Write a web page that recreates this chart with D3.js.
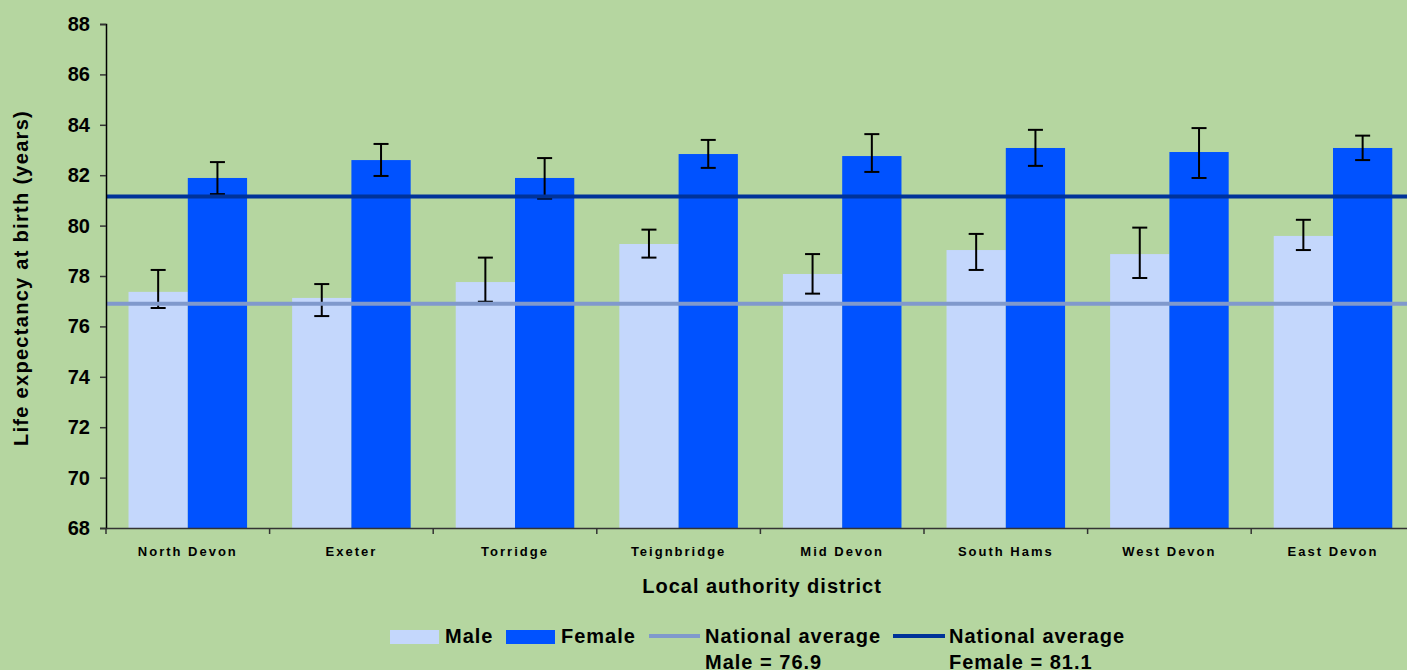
<!DOCTYPE html>
<html><head><meta charset="utf-8">
<script src="https://cdn.jsdelivr.net/npm/d3@7"></script>
<style>
html,body{margin:0;padding:0;background:#B5D6A0;overflow:hidden;}
text{font-family:"Liberation Sans",Arial,sans-serif;font-weight:bold;fill:#000;}
</style></head><body>
<svg id="chart" width="1407" height="670"></svg>
<script>
const categories = ["North Devon","Exeter","Torridge","Teignbridge","Mid Devon","South Hams","West Devon","East Devon"];
const maleValues   = [77.37, 77.13, 77.76, 79.27, 78.08, 79.03, 78.87, 79.59];
const maleLow      = [76.73, 76.41, 76.98, 78.73, 77.30, 78.24, 77.92, 79.03];
const maleHigh     = [78.24, 77.68, 78.73, 79.84, 78.87, 79.67, 79.92, 80.23];
const femaleValues = [81.89, 82.60, 81.89, 82.84, 82.76, 83.08, 82.92, 83.08];
const femaleLow    = [81.25, 81.97, 81.07, 82.29, 82.13, 82.37, 81.89, 82.60];
const femaleHigh   = [82.52, 83.24, 82.68, 83.40, 83.63, 83.80, 83.87, 83.57];
const nationalMale = 76.9;
const nationalFemale = 81.15;
const yTicks = [68,70,72,74,76,78,80,82,84,86,88];
const seriesNames = ["Male","Female"];

const colors = {Male:"#C4D7FC", Female:"#0052FF", natMale:"#8099CC", natFemale:"#003399"};

const svg = d3.select("#chart");
const pLeft = 106, pTop = 24, pBottom = 528, pRight = 106 + 8*163.6;

const y = d3.scaleLinear().domain([68,88]).range([pBottom, pTop]);
const x0 = d3.scaleBand().domain(categories).range([pLeft, pRight]).paddingInner(0).paddingOuter(0);
const x1 = d3.scaleBand().domain(seriesNames).range([0, x0.bandwidth()]).paddingInner(0).paddingOuter(0.38);

const rows = categories.map((c,i)=>({cat:c, series:[
  {name:"Male", v:maleValues[i], lo:maleLow[i], hi:maleHigh[i]},
  {name:"Female", v:femaleValues[i], lo:femaleLow[i], hi:femaleHigh[i]}
]}));

// bars
const g = svg.append("g");
const groups = g.selectAll("g.cat").data(rows).join("g")
  .attr("transform", d=>`translate(${x0(d.cat)},0)`);
groups.selectAll("rect").data(d=>d.series).join("rect")
  .attr("x", d=>x1(d.name)).attr("width", x1.bandwidth())
  .attr("y", d=>y(d.v)).attr("height", d=>y(68)-y(d.v))
  .attr("fill", d=>colors[d.name]);

// error bars
const cap = 7.5;
const eb = groups.selectAll("g.eb").data(d=>d.series).join("g").attr("class","eb");
eb.append("line").attr("x1",d=>x1(d.name)+x1.bandwidth()/2).attr("x2",d=>x1(d.name)+x1.bandwidth()/2)
  .attr("y1",d=>y(d.lo)).attr("y2",d=>y(d.hi)).attr("stroke","#000").attr("stroke-width",2);
eb.append("line").attr("x1",d=>x1(d.name)+x1.bandwidth()/2-cap).attr("x2",d=>x1(d.name)+x1.bandwidth()/2+cap)
  .attr("y1",d=>y(d.hi)).attr("y2",d=>y(d.hi)).attr("stroke","#000").attr("stroke-width",2);
eb.append("line").attr("x1",d=>x1(d.name)+x1.bandwidth()/2-cap).attr("x2",d=>x1(d.name)+x1.bandwidth()/2+cap)
  .attr("y1",d=>y(d.lo)).attr("y2",d=>y(d.lo)).attr("stroke","#000").attr("stroke-width",2);

// national average lines
svg.append("line").attr("x1",pLeft).attr("x2",1407).attr("y1",y(nationalMale)).attr("y2",y(nationalMale))
  .attr("stroke",colors.natMale).attr("stroke-width",4);
svg.append("line").attr("x1",pLeft).attr("x2",1407).attr("y1",y(nationalFemale)).attr("y2",y(nationalFemale))
  .attr("stroke",colors.natFemale).attr("stroke-width",4);

// y axis
const yAxis = svg.append("g").attr("transform",`translate(${pLeft},0)`)
  .call(d3.axisLeft(y).tickValues(yTicks).tickSize(6).tickPadding(10).tickFormat(d3.format("d")));
yAxis.select(".domain").attr("stroke","#000").attr("stroke-width",1.5);
yAxis.selectAll(".tick line").attr("stroke","#333").attr("stroke-width",1.5);
yAxis.selectAll(".tick text").attr("font-size",20).attr("font-family","Liberation Sans, Arial, sans-serif").attr("font-weight","bold").attr("fill","#000");

// x axis
const tickPos = categories.map(c=>x0(c)).concat([pRight]);
const xAxis = svg.append("g").attr("transform",`translate(0,${pBottom})`)
  .call(d3.axisBottom(x0).tickSize(0).tickPadding(0));
xAxis.select(".domain").attr("stroke","#333").attr("stroke-width",1.5);
xAxis.selectAll(".tick text").remove();
xAxis.selectAll("line.sep").data(tickPos).join("line").attr("class","sep")
  .attr("x1",d=>d).attr("x2",d=>d).attr("y1",0).attr("y2",6).attr("stroke","#333").attr("stroke-width",1.5);
xAxis.selectAll("text.cat").data(categories).join("text").attr("class","cat")
  .attr("x",d=>x0(d)+x0.bandwidth()/2).attr("y",28).attr("text-anchor","middle")
  .attr("font-size",13).attr("letter-spacing","2px").text(d=>d);

// axis titles
svg.append("text").attr("x",762).attr("y",593).attr("text-anchor","middle")
  .attr("font-size",20).attr("letter-spacing","1px").text("Local authority district");
svg.append("text").attr("transform","translate(28,278) rotate(-90)").attr("text-anchor","middle")
  .attr("font-size",20).attr("letter-spacing","1.3px").text("Life expectancy at birth (years)");

// legend
const lg = svg.append("g");
lg.append("rect").attr("x",390).attr("y",630).attr("width",49).attr("height",14).attr("fill",colors.Male);
lg.append("text").attr("x",445).attr("y",643).attr("font-size",20).attr("letter-spacing","1px").text("Male");
lg.append("rect").attr("x",506).attr("y",630).attr("width",49).attr("height",14).attr("fill",colors.Female);
lg.append("text").attr("x",561).attr("y",643).attr("font-size",20).attr("letter-spacing","1px").text("Female");
lg.append("line").attr("x1",649).attr("x2",700).attr("y1",636).attr("y2",636).attr("stroke",colors.natMale).attr("stroke-width",4);
lg.append("text").attr("x",705).attr("y",643).attr("font-size",20).attr("letter-spacing","1px").text("National average");
lg.append("text").attr("x",705).attr("y",669).attr("font-size",20).attr("letter-spacing","1px").text("Male = " + nationalMale);
lg.append("line").attr("x1",893).attr("x2",945).attr("y1",636).attr("y2",636).attr("stroke",colors.natFemale).attr("stroke-width",4);
lg.append("text").attr("x",949).attr("y",643).attr("font-size",20).attr("letter-spacing","1px").text("National average");
lg.append("text").attr("x",949).attr("y",669).attr("font-size",20).attr("letter-spacing","1px").text("Female = 81.1");
</script>
</body></html>
